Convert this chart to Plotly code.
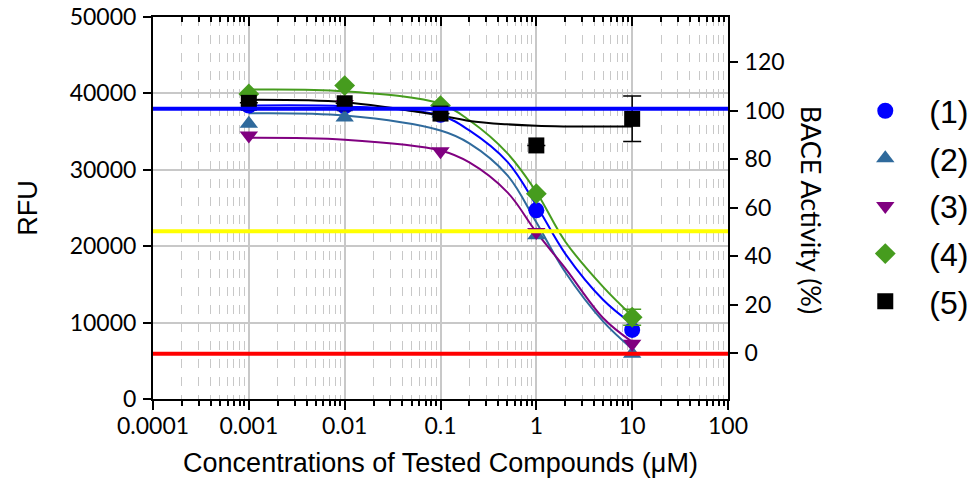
import plotly.graph_objects as go

# ---- data (RFU, left axis) ----
conc = [0.001, 0.01, 0.1, 1, 10]
rfu_1 = [38400, 38300, 37200, 24700, 9040]
rfu_2 = [36020, 36840, 37360, 21440, 5910]
rfu_3 = [34490, 38600, 32440, 21870, 7220]
rfu_4 = [39930, 41020, 38410, 26880, 10700]
rfu_5 = [38760, 38710, 37360, 33190, 36670]
err_4 = [0, 0, 0, 0, 1050]
err_5 = [0, 0, 0, 0, 2980]

# fitted curves
fit_x = [0.001, 0.01, 0.1, 0.2, 0.5, 1, 2, 5, 10]
fit_1 = [38400, 38300, 37100, 35150, 31030, 25360, 19030, 12960, 9830]
fit_2 = [37400, 37100, 35140, 33460, 29270, 23130, 16620, 10130, 6560]
fit_3 = [34190, 33930, 32530, 30970, 27050, 21830, 17130, 10570, 7480]
fit_4 = [40500, 40270, 38640, 36480, 32150, 27100, 20620, 14640, 10870]
fit_5 = [39150, 38840, 37100, 36400, 35950, 35750, 35680, 35670, 35670]

# reference levels (RFU)
level_100 = 37980
level_50 = 21960
level_0 = 5910

names = ["(1)", "(2)", "(3)", "(4)", "(5)"]
colors = ["#0000FF", "#2F6A9C", "#800080", "#469C1E", "#000000"]
symbols = ["circle", "triangle-up", "triangle-down", "diamond", "square"]

x_tickvals = [0.0001, 0.001, 0.01, 0.1, 1, 10, 100]
x_ticktext = ["0.0001", "0.001", "0.01", "0.1", "1", "10", "100"]
y_tickvals = [0, 10000, 20000, 30000, 40000, 50000]
y_ticktext = ["0", "10000", "20000", "30000", "40000", "50000"]
y2_tickvals = [0, 20, 40, 60, 80, 100, 120]
y2_ticktext = ["0", "20", "40", "60", "80", "100", "120"]

TICKFONT = dict(family="Lato, 'Open Sans', sans-serif", size=23, color="black")
LABFONT = dict(family="'Liberation Sans', Arial, sans-serif", size=27, color="black")

fig = go.Figure()

# reference lines
for lvl, col in [(level_100, "#0000FF"), (level_50, "#FFFF00"), (level_0, "#FF0000")]:
    fig.add_shape(type="line", xref="paper", x0=0, x1=1, yref="y", y0=lvl, y1=lvl,
                  line=dict(color=col, width=4), layer="above")

fits = [fit_1, fit_2, fit_3, fit_4, fit_5]
for f, c in zip(fits, colors):
    fig.add_trace(go.Scatter(x=fit_x, y=f, mode="lines", line=dict(color=c, width=2, shape="spline"),
                             showlegend=False, hoverinfo="skip"))

data = [rfu_1, rfu_2, rfu_3, rfu_4, rfu_5]
errs = [None, None, None, err_4, err_5]
for i, (d, c, s, n) in enumerate(zip(data, colors, symbols, names)):
    eb = None
    if errs[i] is not None:
        eb = dict(type="data", array=errs[i], visible=True, color=c, thickness=1.5, width=9)
    fig.add_trace(go.Scatter(x=conc, y=d, mode="markers", name=n,
                             marker=dict(symbol=s, size=16, color=c, line=dict(width=0)),
                             error_y=eb, legendgroup=n))

# dummy trace for right axis
fig.add_trace(go.Scatter(x=[0.001], y=[0], yaxis="y2", mode="markers",
                         marker=dict(opacity=0), showlegend=False, hoverinfo="skip"))
# dummy trace for top axis
fig.add_trace(go.Scatter(x=[0.001], y=[0], xaxis="x2", mode="markers",
                         marker=dict(opacity=0), showlegend=False, hoverinfo="skip"))

fig.update_layout(
    width=973, height=487,
    margin=dict(l=153, r=245, t=17, b=88, autoexpand=False),
    paper_bgcolor="white", plot_bgcolor="white",
    showlegend=True,
    legend=dict(x=1.197, y=0.826, xanchor="left", yanchor="top",
                font=dict(family="'Liberation Sans', Arial, sans-serif", size=32, color="black"),
                itemwidth=78, tracegroupgap=3, bgcolor="rgba(0,0,0,0)"),
    xaxis=dict(type="log", range=[-4, 2], tickvals=x_tickvals, ticktext=x_ticktext,
               ticks="outside", ticklen=9, tickwidth=2, tickcolor="black", automargin=False,
               showline=True, linecolor="black", linewidth=2,
               showgrid=True, gridcolor="#C8C8C8", gridwidth=1.5,
               minor=dict(ticks="outside", ticklen=5, tickwidth=1.5, tickcolor="black",
                          showgrid=True, gridcolor="#C8C8C8", griddash="dash", gridwidth=1,
                          dtick="D1"),
               tickfont=TICKFONT, zeroline=False, ticklabelstandoff=-4,
               title=dict(text="Concentrations of Tested Compounds (μM)", font=LABFONT, standoff=16)),
    xaxis2=dict(type="log", range=[-4, 2], overlaying="x", side="top", anchor="y",
                tickvals=x_tickvals, showticklabels=False, automargin=False,
                ticks="inside", ticklen=9, tickwidth=2, tickcolor="black",
                showline=True, linecolor="black", linewidth=2, showgrid=False,
                minor=dict(ticks="inside", ticklen=5, tickwidth=1.5, tickcolor="black",
                           showgrid=False, dtick="D1"),
                zeroline=False),
    yaxis=dict(range=[0, 50000], tickvals=y_tickvals, ticktext=y_ticktext, ticks="outside", ticklen=8,
               tickwidth=2, automargin=False,
               tickcolor="black", showline=True, linecolor="black", linewidth=2,
               showgrid=True, gridcolor="#C8C8C8", gridwidth=1.5, zeroline=False,
               tickfont=TICKFONT, ticklabelstandoff=2,
               title=dict(text="RFU", font=LABFONT, standoff=24)),
    yaxis2=dict(range=[-18.96, 138.6], tickvals=y2_tickvals, ticktext=y2_ticktext, overlaying="y",
                side="right", automargin=False,
                ticks="outside", ticklen=8, tickwidth=2, tickcolor="black",
                showline=True, linecolor="black", linewidth=2, showgrid=False, zeroline=False,
                tickfont=TICKFONT, ticklabelstandoff=2),
    annotations=[dict(text="BACE Activity (%)", textangle=90, xref="paper", yref="paper",
                      x=(811 - 153) / 575, y=1 - (210 - 17) / 382.3, xanchor="center", yanchor="middle",
                      showarrow=False,
                      font=dict(family="Lato, 'Open Sans', sans-serif", size=27, color="black"))],
)

fig.write_html("out.html")
